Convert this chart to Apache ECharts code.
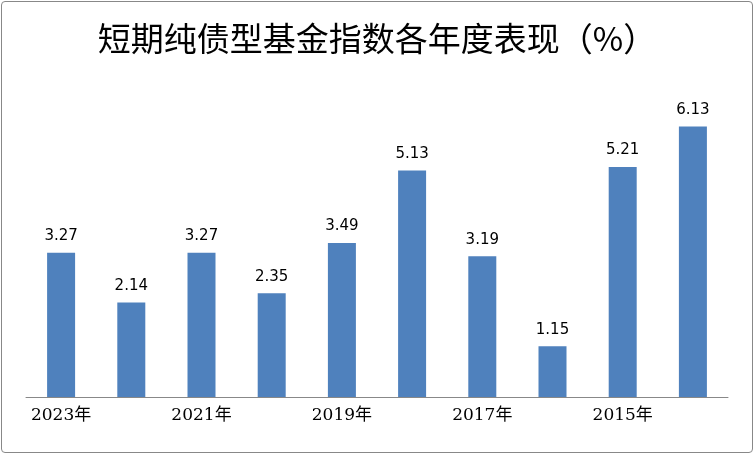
<!DOCTYPE html>
<html>
<head>
<meta charset="utf-8">
<script src="https://cdn.jsdelivr.net/npm/echarts@6/dist/echarts.min.js"></script>
<style>
  html, body { margin: 0; padding: 0; background: #fff; }
  #box { position: absolute; left: 1px; top: 1px; width: 750px; height: 450px; border: 1px solid #888; border-radius: 4px; }
  #chart { width: 754px; height: 454px; }
</style>
</head>
<body>
<div id="box"></div>
<div id="chart"></div>
<script>
const years = ['2023年', '2022年', '2021年', '2020年', '2019年', '2018年', '2017年', '2016年', '2015年', '2014年'];
const returns = [3.27, 2.14, 3.27, 2.35, 3.49, 5.13, 3.19, 1.15, 5.21, 6.13];

const chart = echarts.init(document.getElementById('chart'));
chart.setOption({
    animation: false,
    title: {
        text: '短期纯债型基金指数各年度表现（%）',
        left: 'center',
        top: 17,
        textStyle: {fontFamily: 'Noto Sans CJK SC', fontSize: 33, fontWeight: 'normal', color: '#000'}
    },
    grid: {left: 26, right: 26, top: 88, bottom: 57},
    xAxis: {
        type: 'category',
        data: years,
        axisLine: {lineStyle: {color: '#888'}},
        axisTick: {show: false},
        axisLabel: {color: '#000', fontSize: 17, fontFamily: 'DejaVu Serif, Noto Sans CJK SC', margin: 10}
    },
    yAxis: {type: 'value', min: 0, max: 7, show: false, splitLine: {show: false}},
    series: [{
        type: 'bar',
        data: returns,
        barWidth: 28,
        itemStyle: {color: '#4f81bd'},
        label: {show: true, position: 'top', distance: 9, color: '#000', fontSize: 15, fontFamily: 'DejaVu Sans'}
    }]
});
</script>
</body>
</html>
